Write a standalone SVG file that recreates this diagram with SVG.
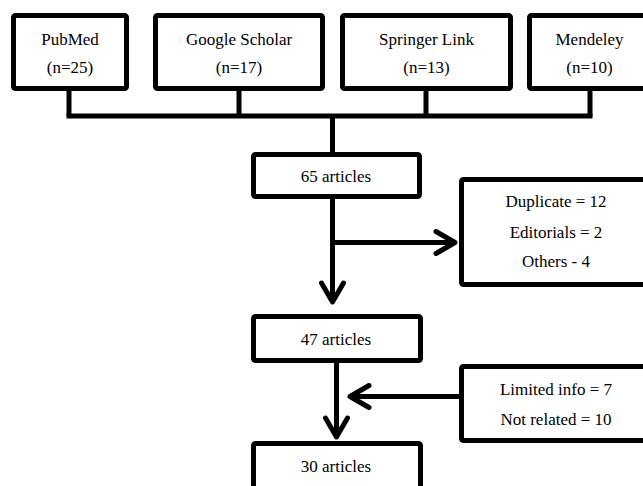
<svg xmlns="http://www.w3.org/2000/svg" width="643" height="486" viewBox="0 0 643 486">
<style>
.box{fill:#fff;stroke:#000;stroke-width:5}
.t{font-family:'Liberation Serif', 'DejaVu Serif', serif;font-size:17px;fill:#000;text-anchor:middle}
.c{fill:none;stroke:#000;stroke-width:5}
</style>
<defs>
<marker id="chev" markerUnits="userSpaceOnUse" markerWidth="40" markerHeight="40" viewBox="-30 -20 40 40" refX="0" refY="0" orient="auto" overflow="visible">
<path d="M-19,-11 L0,0 L-19,11" fill="none" stroke="#000" stroke-width="5" stroke-linecap="round" stroke-linejoin="round"/>
</marker>
</defs>
<rect width="643" height="486" fill="#fff"/>
<g id="connectors">
<path class="c" d="M69,89 V116 M239,89 V116 M426,89 V116 M590,89 V116"/>
<path class="c" d="M66.5,116 H592.5"/>
<path class="c" d="M332.5,116 V155"/>
<path class="c" d="M332.5,197 V302" marker-end="url(#chev)"/>
<path class="c" d="M332.5,242.5 H455" marker-end="url(#chev)"/>
<path class="c" d="M336.5,361 V437" marker-end="url(#chev)"/>
<path class="c" d="M462,396.5 H350" marker-end="url(#chev)"/>
</g>
<g id="pubmed"><rect class="box" x="13.5" y="15.5" width="113" height="73" rx="2"/><text class="t" font-family="Liberation Serif, serif" x="70" y="45">PubMed</text><text class="t" x="70" y="73">(n=25)</text></g>
<g id="scholar"><rect class="box" x="155.5" y="15.5" width="167" height="73" rx="2"/><text class="t" x="239" y="45">Google Scholar</text><text class="t" x="239" y="73">(n=17)</text></g>
<g id="springer"><rect class="box" x="342.5" y="15.5" width="168" height="73" rx="2"/><text class="t" x="426.5" y="45">Springer Link</text><text class="t" x="426.5" y="73">(n=13)</text></g>
<g id="mendeley"><rect class="box" x="529.5" y="15.5" width="125" height="73" rx="2"/><text class="t" x="589.5" y="45">Mendeley</text><text class="t" x="589.5" y="73">(n=10)</text></g>
<g id="n65"><rect class="box" x="253.5" y="154.5" width="166" height="42" rx="2"/><text class="t" x="336" y="182">65 articles</text></g>
<g id="excluded1"><rect class="box" x="461.5" y="179.5" width="195" height="105" rx="2"/><text class="t" x="556" y="207">Duplicate = 12</text><text class="t" x="556" y="238">Editorials = 2</text><text class="t" x="556" y="267">Others - 4</text></g>
<g id="n47"><rect class="box" x="253.5" y="316.5" width="167" height="44" rx="2"/><text class="t" x="336" y="345">47 articles</text></g>
<g id="excluded2"><rect class="box" x="461.5" y="366.5" width="195" height="74" rx="2"/><text class="t" x="556" y="395">Limited info = 7</text><text class="t" x="556" y="425">Not related = 10</text></g>
<g id="n30"><rect class="box" x="253.5" y="443.5" width="167" height="60" rx="2"/><text class="t" x="336" y="472">30 articles</text></g>
</svg>
